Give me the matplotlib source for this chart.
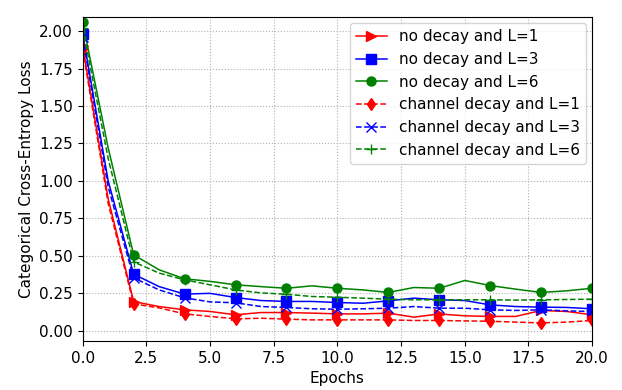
import numpy as np
from matplotlib import pyplot as plt

plt.rcParams['font.size'] = 11

# loss per epoch (0..20)
epochs = list(range(21))
no_decay_l1 = [1.90, 0.88, 0.195, 0.162, 0.140, 0.129, 0.107, 0.122, 0.122, 0.118, 0.113,
               0.113, 0.118, 0.091, 0.113, 0.100, 0.096, 0.096, 0.136, 0.129, 0.107]
no_decay_l3 = [1.98, 1.00, 0.378, 0.295, 0.245, 0.250, 0.222, 0.202, 0.196, 0.196, 0.189,
               0.184, 0.200, 0.218, 0.207, 0.202, 0.173, 0.162, 0.158, 0.156, 0.147]
no_decay_l6 = [2.06, 1.22, 0.507, 0.407, 0.347, 0.330, 0.307, 0.295, 0.284, 0.300, 0.284,
               0.273, 0.256, 0.289, 0.284, 0.336, 0.302, 0.278, 0.256, 0.267, 0.284]
channel_l1 = [1.88, 0.85, 0.180, 0.153, 0.113, 0.096, 0.080, 0.084, 0.078, 0.073, 0.073,
              0.073, 0.073, 0.069, 0.069, 0.066, 0.064, 0.058, 0.053, 0.058, 0.069]
channel_l3 = [1.96, 0.96, 0.353, 0.273, 0.220, 0.193, 0.187, 0.162, 0.156, 0.147, 0.144,
              0.147, 0.151, 0.162, 0.151, 0.151, 0.140, 0.136, 0.140, 0.133, 0.129]
channel_l6 = [2.02, 1.15, 0.460, 0.385, 0.340, 0.307, 0.273, 0.253, 0.244, 0.229, 0.224,
              0.218, 0.211, 0.207, 0.207, 0.207, 0.207, 0.205, 0.207, 0.209, 0.211]

fig = plt.figure(figsize=(6.22, 3.9), dpi=100)
ax = fig.add_axes([0.133, 0.126, 0.819, 0.830])

ms = 6.5
ax.plot(epochs, no_decay_l1, 'r->', lw=1.1, ms=ms, markevery=2, label='no decay and L=1')
ax.plot(epochs, no_decay_l3, 'b-s', lw=1.1, ms=ms, markevery=2, label='no decay and L=3')
ax.plot(epochs, no_decay_l6, 'g-o', lw=1.1, ms=ms, markevery=2, label='no decay and L=6')
ax.plot(epochs, channel_l1, 'r--d', lw=1.1, ms=ms, markevery=2, label='channel decay and L=1')
ax.plot(epochs, channel_l3, 'b--x', lw=1.1, ms=ms, markevery=2, label='channel decay and L=3')
ax.plot(epochs, channel_l6, 'g--+', lw=1.1, ms=ms, markevery=2, label='channel decay and L=6')

ax.set_xlim(0, 20)
ax.set_ylim(-0.067, 2.093)
ax.set_xlabel('Epochs')
ax.set_ylabel('Categorical Cross-Entropy Loss')
ax.grid(True, linestyle=':', color='#b0b0b0')
ax.legend(loc='upper right', borderaxespad=0.4)

fig.savefig('out.png', dpi=100)
